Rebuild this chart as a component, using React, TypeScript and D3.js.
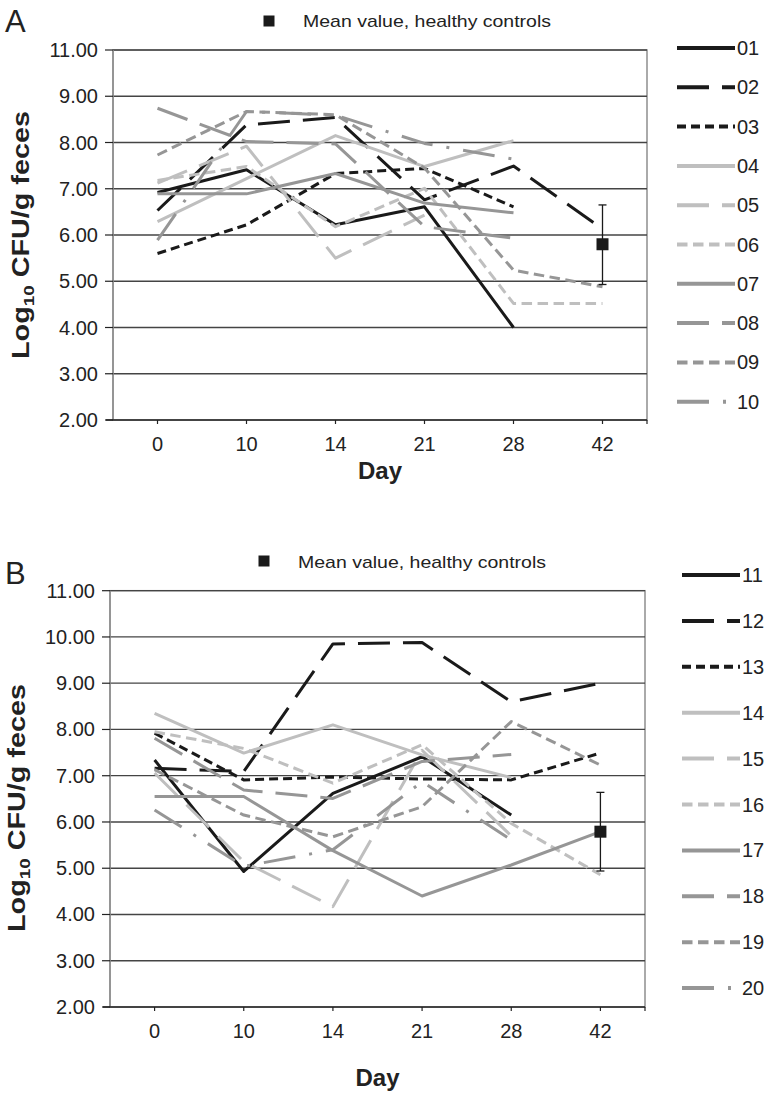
import React from "react";
import * as d3 from "d3";

const days = ["0", "10", "14", "21", "28", "42"];

const yTickValuesA = [2, 3, 4, 5, 6, 7, 8, 9, 10];
const yTickLabelsA = ["2.00", "3.00", "4.00", "5.00", "6.00", "7.00", "8.00", "9.00", "11.00"];
const yTickValuesB = [2, 3, 4, 5, 6, 7, 8, 9, 10, 11];
const yTickLabelsB = ["2.00", "3.00", "4.00", "5.00", "6.00", "7.00", "8.00", "9.00", "10.00", "11.00"];

const namesA = ["01", "02", "03", "04", "05", "06", "07", "08", "09", "10"];
const namesB = ["11", "12", "13", "14", "15", "16", "17", "18", "19", "20"];

const s01 = [6.92, 7.41, 6.22, 6.61, 4.0, null];
const s02 = [6.53, 8.38, 8.54, 6.76, 7.49, 6.13];
const s03 = [5.6, 6.22, 7.33, 7.44, 6.61, null];
const s04 = [6.29, 7.22, 8.15, 7.48, 8.04, null];
const s05 = [7.12, 7.92, 5.5, 6.43, null, null];
const s06 = [7.18, 7.48, 6.18, 7.01, 4.52, 4.52];
const s07 = [6.89, 6.89, 7.33, 6.69, 6.48, null];
const s08 = [8.74, 8.02, 7.97, 6.18, 5.93, null];
const s09 = [7.73, 8.67, 8.6, 7.45, 5.24, 4.88];
const s10 = [5.89, 8.67, 8.59, 7.98, 7.64, null];

const s11 = [7.34, 4.93, 6.62, 7.41, 6.15, null];
const s12 = [7.16, 7.09, 9.85, 9.88, 8.6, 9.0];
const s13 = [7.92, 6.91, 6.97, 6.93, 6.91, 7.49];
const s14 = [8.35, 7.49, 8.1, 7.45, 6.96, null];
const s15 = [7.06, 5.14, 4.17, 7.55, 5.7, null];
const s16 = [7.95, 7.59, 6.84, 7.67, 5.97, 4.86];
const s17 = [6.55, 6.55, 5.38, 4.4, 5.07, 5.79];
const s18 = [7.81, 6.69, 6.51, 7.31, 7.46, null];
const s19 = [7.13, 6.15, 5.68, 6.33, 8.17, 7.23];
const s20 = [6.26, 5.04, 5.4, 6.87, 5.61, null];

const meanDay = "42";
const meanValueA = 5.8;
const meanLowA = 4.93;
const meanHighA = 6.65;
const meanValueB = 5.79;
const meanLowB = 4.94;
const meanHighB = 6.64;

const BLACK = "#1a1a1a";
const LIGHT = "#bfbfbf";
const MID = "#969696";

const seriesColors = [BLACK, BLACK, BLACK, LIGHT, LIGHT, LIGHT, MID, MID, MID, MID];
const seriesDashes = [
  null,
  "32,13",
  "9,5",
  null,
  "32,13",
  "10.5,5.5",
  null,
  "32,13",
  "10.5,5.5",
  "32,14,3,14",
];

const FONT = "'Liberation Sans', Arial, Helvetica, sans-serif";

type PanelProps = {
  letter: string;
  letterY: number;
  names: string[];
  series: (number | null)[][];
  yValues: number[];
  yLabels: string[];
  yDomain: [number, number];
  left: number;
  right: number;
  top: number;
  bottom: number;
  mean: number;
  low: number;
  high: number;
  legendX1: number;
  legendX2: number;
  legendY0: number;
  legendStep: number;
  meanSqX: number;
  meanSqY: number;
  meanTextX: number;
  meanTextY: number;
  titleX: number;
  titleY: number;
  dayY: number;
};

function Panel(p: PanelProps) {
  const x = d3.scaleBand<string>().domain(days).range([p.left, p.right]);
  const cx = (d: string) => (x(d) as number) + x.bandwidth() / 2;
  const y = d3.scaleLinear().domain(p.yDomain).range([p.bottom, p.top]);
  const line = d3
    .line<number | null>()
    .defined((v) => v !== null)
    .x((_, i) => cx(days[i]))
    .y((v) => y(v as number));

  const mx = cx(meanDay);
  return (
    <g>
      <text x={5} y={p.letterY} fontSize={31} fontFamily={FONT} fill="#222">
        {p.letter}
      </text>
      <rect x={p.meanSqX - 5.5} y={p.meanSqY - 5.5} width={11} height={11} fill={BLACK} />
      <text
        x={p.meanTextX}
        y={p.meanTextY}
        fontSize={17}
        fontFamily={FONT}
        fill="#222"
        textLength={248}
        lengthAdjust="spacingAndGlyphs"
      >
        Mean value, healthy controls
      </text>
      <rect x={p.left} y={p.top} width={p.right - p.left} height={p.bottom - p.top} fill="none" stroke="#8e8e8e" strokeWidth={1.5} />
      {p.yValues.slice(1).map((v) => (
        <line key={"g" + v} x1={p.left} x2={p.right} y1={y(v)} y2={y(v)} stroke="#444" strokeWidth={1.3} />
      ))}
      <line x1={p.left} x2={p.left} y1={p.top} y2={p.bottom} stroke="#8e8e8e" strokeWidth={1.5} />
      {p.yValues.map((v, i) => (
        <g key={"yt" + v}>
          <line x1={p.left - 8} x2={p.left} y1={y(v)} y2={y(v)} stroke="#222" strokeWidth={1.2} />
          <text x={p.left - 15} y={y(v) + 7} textAnchor="end" fontSize={20} fontFamily={FONT} fill="#222">
            {p.yLabels[i]}
          </text>
        </g>
      ))}
      <line x1={p.left - 7} x2={p.right} y1={p.bottom} y2={p.bottom} stroke="#222" strokeWidth={1.3} />
      {days.map((d) => (
        <g key={"xt" + d}>
          <line x1={cx(d)} x2={cx(d)} y1={p.bottom} y2={p.bottom + 4} stroke="#222" strokeWidth={1.2} />
          <text x={cx(d)} y={p.bottom + 31} textAnchor="middle" fontSize={20} fontFamily={FONT} fill="#222">
            {d}
          </text>
        </g>
      ))}
      <line x1={p.right} x2={p.right} y1={p.bottom} y2={p.bottom + 4} stroke="#222" strokeWidth={1.2} />
      <text x={(p.left + p.right) / 2} y={p.dayY} textAnchor="middle" fontSize={24} fontWeight="bold" fontFamily={FONT} fill="#222">
        Day
      </text>
      <text
        transform={`translate(${p.titleX},${p.titleY}) rotate(-90)`}
        textAnchor="middle"
        fontSize={23}
        fontWeight="bold"
        fontFamily={FONT}
        fill="#222"
        textLength={248}
        lengthAdjust="spacingAndGlyphs"
      >
        Log
        <tspan fontSize={15} dy={5}>10</tspan>
        <tspan dy={-5}> CFU/g feces</tspan>
      </text>
      {p.series.map((s, i) => (
        <path
          key={"s" + i}
          d={line(s) as string}
          fill="none"
          stroke={seriesColors[i]}
          strokeWidth={3}
          strokeDasharray={seriesDashes[i] ?? undefined}
          strokeLinejoin="round"
        />
      ))}
      <line x1={mx} x2={mx} y1={y(p.low)} y2={y(p.high)} stroke={BLACK} strokeWidth={1.3} />
      <line x1={mx - 4} x2={mx + 4} y1={y(p.low)} y2={y(p.low)} stroke={BLACK} strokeWidth={1.3} />
      <line x1={mx - 4} x2={mx + 4} y1={y(p.high)} y2={y(p.high)} stroke={BLACK} strokeWidth={1.3} />
      <rect x={mx - 6} y={y(p.mean) - 6} width={12} height={12} fill={BLACK} />
      {p.names.map((n, i) => {
        const ly = p.legendY0 + i * p.legendStep;
        return (
          <g key={"l" + n}>
            <line
              x1={p.legendX1}
              x2={p.legendX2}
              y1={ly}
              y2={ly}
              stroke={seriesColors[i]}
              strokeWidth={4}
              strokeDasharray={seriesDashes[i] ?? undefined}
            />
            <text x={p.legendX2 + 2} y={ly + 7} fontSize={20} fontFamily={FONT} fill="#222">
              {n}
            </text>
          </g>
        );
      })}
    </g>
  );
}

export default function App() {
  const seriesA = [s01, s02, s03, s04, s05, s06, s07, s08, s09, s10];
  const seriesB = [s11, s12, s13, s14, s15, s16, s17, s18, s19, s20];
  return (
    <svg
      width={768}
      height={1096}
      viewBox="0 0 768 1096"
      style={{ position: "absolute", left: 0, top: 0, background: "#fff" }}
    >
      <rect x={0} y={0} width={768} height={1096} fill="#fff" />
      <Panel
        letter="A"
        letterY={32}
        names={namesA}
        series={seriesA}
        yValues={yTickValuesA}
        yLabels={yTickLabelsA}
        yDomain={[2, 10]}
        left={113}
        right={647}
        top={50}
        bottom={420}
        mean={meanValueA}
        low={meanLowA}
        high={meanHighA}
        legendX1={677}
        legendX2={735}
        legendY0={48}
        legendStep={39.3}
        meanSqX={269}
        meanSqY={21}
        meanTextX={303}
        meanTextY={27}
        titleX={29}
        titleY={235}
        dayY={479}
      />
      <Panel
        letter="B"
        letterY={584}
        names={namesB}
        series={seriesB}
        yValues={yTickValuesB}
        yLabels={yTickLabelsB}
        yDomain={[2, 11]}
        left={110}
        right={645}
        top={590.7}
        bottom={1007}
        mean={meanValueB}
        low={meanLowB}
        high={meanHighB}
        legendX1={682}
        legendX2={740}
        legendY0={575}
        legendStep={45.9}
        meanSqX={264}
        meanSqY={561}
        meanTextX={298}
        meanTextY={568}
        titleX={25}
        titleY={808}
        dayY={1086}
      />
    </svg>
  );
}
